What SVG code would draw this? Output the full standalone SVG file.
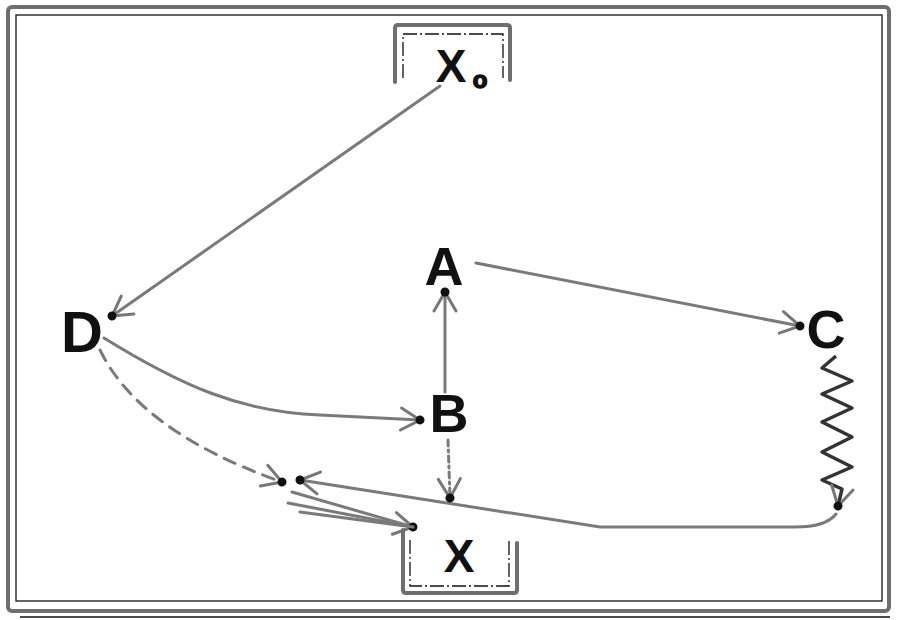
<svg xmlns="http://www.w3.org/2000/svg" width="900" height="620" viewBox="0 0 900 620">
<style>
.lbl{font-family:"Liberation Sans",Arial,sans-serif;font-weight:bold;fill:#111;text-anchor:middle}
.frame{fill:none;stroke:#6e6e6e;stroke-width:4;stroke-linejoin:round;stroke-linecap:round}
.thin{fill:none;stroke:#111;stroke-width:1.3}
.conn{fill:none;stroke:#7a7a7a;stroke-width:3;stroke-linecap:round}
</style>
<defs>
<marker id="arr" viewBox="-24 -14 30 28" refX="0" refY="0" markerWidth="30" markerHeight="28" markerUnits="userSpaceOnUse" orient="auto">
<path d="M-19,-11 L0,0 L-19,11" fill="none" stroke="#777" stroke-width="3" stroke-linecap="round"/>
<circle cx="0" cy="0" r="4.5" fill="#111"/>
</marker>
</defs>
<rect width="900" height="620" fill="#fff"/>
<g id="frame">
<rect class="frame" x="8" y="7" width="881" height="604" rx="4"/>
<rect class="thin" x="16" y="15" width="866" height="586"/>
<line class="thin" x1="20" y1="617" x2="890" y2="617"/>
</g>
<g id="connectors">
<path class="conn" d="M440,86 L112,316" marker-end="url(#arr)"/>
<path class="conn" d="M476,263 L800,326" marker-end="url(#arr)"/>
<path class="conn" d="M445,392 L445,292" stroke-width="4.5" marker-end="url(#arr)"/>
<path class="conn" d="M104,338 C180,385 240,412 320,415 L420,420" marker-end="url(#arr)"/>
<path class="conn" d="M100,350 Q140,432 282,482" stroke-dasharray="12 9" marker-end="url(#arr)"/>
<path class="conn" d="M836,514 Q826,527 795,527 L600,527 L300,480" marker-end="url(#arr)"/>
<path d="M836,356 L822,368 L852,381 L822,394 L852,408 L822,422 L852,437 L822,452 L852,467 L822,480 L842,489 L838,506" fill="none" stroke="#333" stroke-width="3.5" stroke-linejoin="round" marker-end="url(#arr)"/>
<path class="conn" d="M448,440 L450,498" stroke-dasharray="6 4 2 4" marker-end="url(#arr)"/>
<path class="conn" d="M292,492 L413,527"/>
<path class="conn" d="M288,503 L413,527" marker-end="url(#arr)"/>
<path class="conn" d="M300,512 L413,527"/>
</g>
<g id="node-X0">
<path class="frame" d="M395,82 L395,28 Q395,25 398,25 L507,25 Q510,25 510,28 L510,80"/>
<path class="thin" d="M403,78 L403,34 L503,34 L503,78" stroke-dasharray="14 3 2 3"/>
<text class="lbl" x="451" y="82" font-size="46">X<tspan x="480" y="88" font-size="24" stroke="#111" stroke-width="1.5">o</tspan></text>
</g>
<g id="node-A"><text class="lbl" x="444" y="285" font-size="54">A</text></g>
<g id="node-B"><text class="lbl" x="449" y="432" font-size="54">B</text></g>
<g id="node-C"><text class="lbl" x="826" y="348" font-size="54">C</text></g>
<g id="node-D"><text class="lbl" x="82" y="352" font-size="58">D</text></g>
<g id="node-X">
<path class="frame" d="M403,530 L403,590 Q403,593 406,593 L514,593 Q517,593 517,590 L517,543"/>
<path class="thin" d="M410,540 L410,586 L509,586 L509,540" stroke-dasharray="14 3 2 3"/>
<text class="lbl" x="459" y="572" font-size="46">X</text>
</g>
</svg>
